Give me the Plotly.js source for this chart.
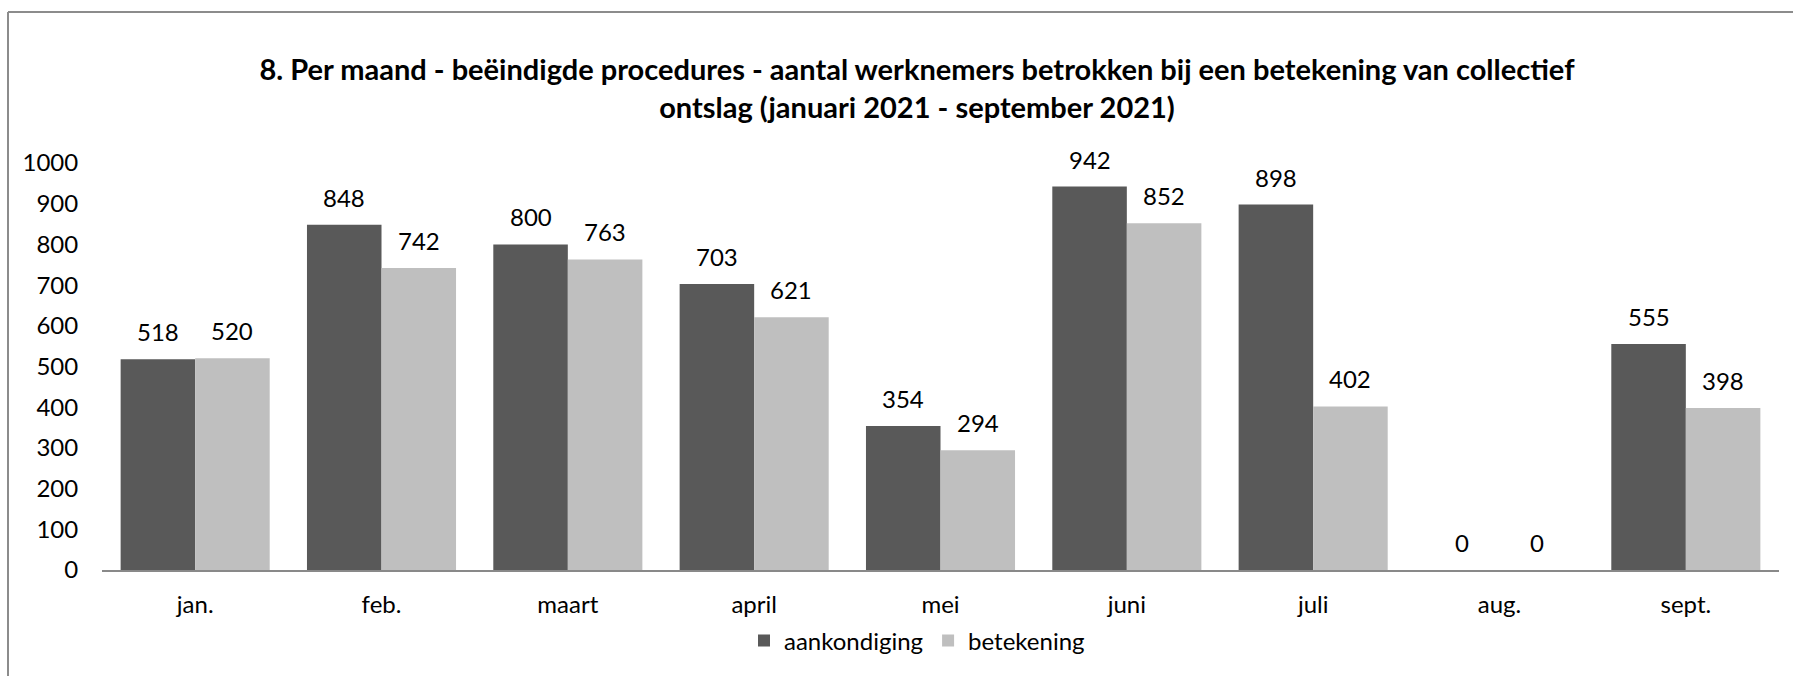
<!DOCTYPE html>
<html>
<head>
<meta charset="utf-8">
<script src="https://cdn.plot.ly/plotly-3.0.1.min.js"></script>
<style>
  body { margin: 0; background: #fff; }
  #chart { width: 1793px; height: 676px; }
</style>
</head>
<body>
<div id="chart"></div>
<script>
// months and the two series
var maanden = ["jan.", "feb.", "maart", "april", "mei", "juni", "juli", "aug.", "sept."];
var aankondiging = [518, 848, 800, 703, 354, 942, 898, 0, 555];
var betekening = [520, 742, 763, 621, 294, 852, 402, 0, 398];
var yTicks = [0, 100, 200, 300, 400, 500, 600, 700, 800, 900, 1000];

var fontFam = 'Lato, "Open Sans", sans-serif';

var trace1 = {
    x: maanden,
    y: aankondiging,
    type: 'bar',
    name: 'aankondiging',
    marker: { color: '#595959' },
    hoverinfo: 'x+y'
};

var trace2 = {
    x: maanden,
    y: betekening,
    type: 'bar',
    name: 'betekening',
    marker: { color: '#bfbfbf' },
    hoverinfo: 'x+y'
};

// value labels above the bars (bargap 0.2 -> each bar is 0.4 wide, centred at +-0.2)
var labels = [];
function addLabels(vals, offset) {
    vals.forEach(function (v, i) {
        labels.push({
            x: i + offset, y: v, xref: 'x', yref: 'y',
            text: String(v), showarrow: false,
            xanchor: 'center', yanchor: 'bottom', yshift: 11,
            font: { size: 24, color: '#000', family: fontFam }
        });
    });
}
addLabels(aankondiging, -0.2);
addLabels(betekening, 0.2);

// plot area: x 102..1779, y 163..570 (pixels)
var L = 102, R = 14, T = 163, B = 106;
var pw = 1793 - L - R, ph = 676 - T - B;
function px(x) { return (x - L) / pw; }
function py(y) { return (676 - B - y) / ph; }

var layout = {
    width: 1793,
    height: 676,
    margin: { l: L, r: R, t: T, b: B, pad: 0 },
    paper_bgcolor: '#fff',
    plot_bgcolor: '#fff',
    font: { family: fontFam, size: 24, color: '#000' },
    title: {
        text: '<b>8. Per maand - beëindigde procedures - aantal werknemers betrokken bij een betekening van collectief<br>ontslag (januari 2021 - september 2021)</b>',
        font: { size: 29, color: '#000', family: fontFam },
        x: px(917),
        xref: 'paper',
        xanchor: 'center',
        y: 1 - 80 / 676,
        yanchor: 'middle'
    },
    barmode: 'group',
    bargap: 0.2,
    bargroupgap: 0,
    xaxis: {
        showgrid: false,
        zeroline: false,
        showline: true,
        linecolor: '#898989',
        linewidth: 2,
        ticks: 'outside',
        ticklen: 12,
        tickcolor: 'rgba(0,0,0,0)',
        tickfont: { size: 24 },
        fixedrange: true
    },
    yaxis: {
        range: [0, 1000],
        tickvals: yTicks,
        showgrid: false,
        zeroline: false,
        showline: false,
        ticks: 'outside',
        ticklen: 18,
        tickcolor: 'rgba(0,0,0,0)',
        tickfont: { size: 24 },
        fixedrange: true
    },
    showlegend: true,
    legend: {
        orientation: 'h',
        x: px(917),
        xanchor: 'center',
        y: py(641),
        yanchor: 'middle',
        font: { size: 24 },
        traceorder: 'normal',
        itemwidth: 30
    },
    annotations: labels,
    shapes: [
        {
            type: 'line', xref: 'paper', yref: 'paper',
            x0: px(8), x1: px(8), y0: py(680), y1: py(12),
            line: { color: '#8c8c8c', width: 2 }
        },
        {
            type: 'line', xref: 'paper', yref: 'paper',
            x0: px(8), x1: px(1800), y0: py(12), y1: py(12),
            line: { color: '#8c8c8c', width: 2 }
        }
    ]
};

Plotly.newPlot('chart', [trace1, trace2], layout, { displayModeBar: false });
</script>
</body>
</html>
